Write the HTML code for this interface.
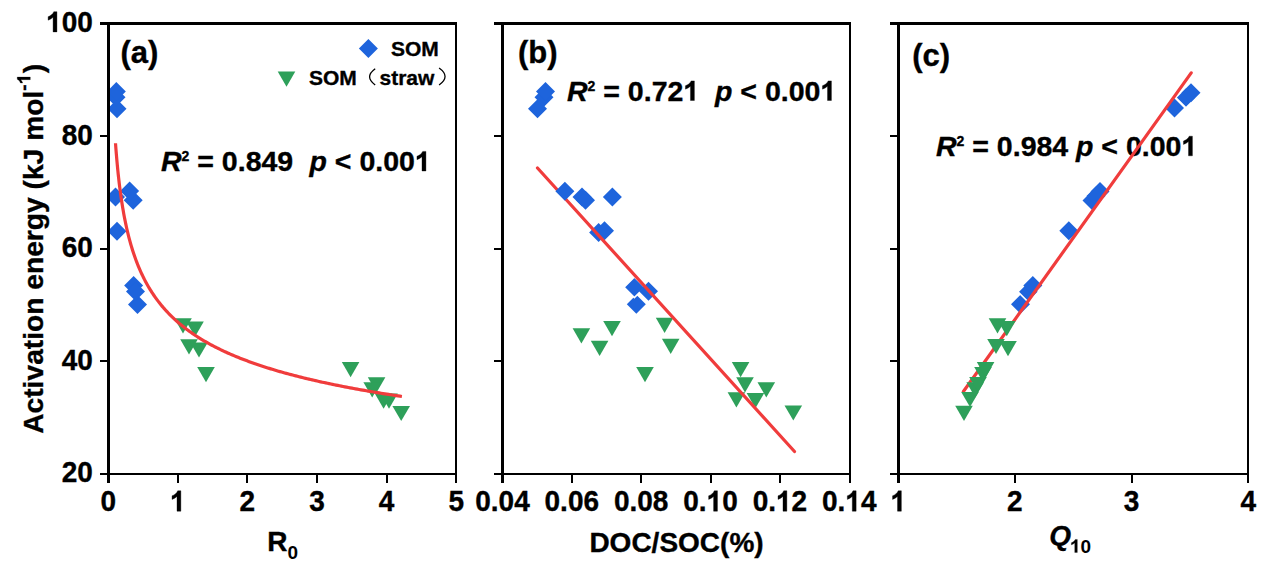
<!DOCTYPE html><html><head><meta charset="utf-8"><style>html,body{margin:0;padding:0;background:#fff}svg{display:block}text{font-family:"Liberation Sans",sans-serif;font-weight:bold;fill:#000;stroke:#000;stroke-width:0.35px} tspan.one{stroke:none;fill:transparent}</style></head><body><svg width="1269" height="569" viewBox="0 0 1269 569">
<rect width="1269" height="569" fill="#fff"/>
<defs><clipPath id="ca"><rect x="109" y="24" width="346" height="449"/></clipPath><clipPath id="cb"><rect x="503" y="24" width="345" height="449"/></clipPath><clipPath id="cc"><rect x="899" y="24" width="348" height="449"/></clipPath><path id="g1r" d="M696 0H515V1237L197 1010V1180L530 1409H696Z"/><path id="g1" stroke="#000" stroke-width="25" d="M793 0H512V1021C409 928 289 860 150 816V1061C223 1084 303 1127 388 1191C473 1254 531 1327 563 1409H793Z"/></defs>
<text x="161" y="171" font-size="28.5"><tspan font-style="italic">R</tspan><tspan font-size="14" dy="-10">2</tspan><tspan dy="10"> = 0.849</tspan></text>
<text x="309.5" y="171" font-size="28.5"><tspan font-style="italic">p</tspan> &lt; 0.00<tspan class="one" fill="transparent">1</tspan></text>
<use href="#g1" transform="translate(414.88 171.00) scale(0.01392 -0.01392)"/>
<text x="567" y="100.5" font-size="28.5"><tspan font-style="italic">R</tspan><tspan font-size="14" dy="-10">2</tspan><tspan dy="10"> = 0.72<tspan class="one" fill="transparent">1</tspan></tspan></text>
<use href="#g1" transform="translate(683.34 100.50) scale(0.01392 -0.01392)"/>
<text x="715" y="100.5" font-size="28.5"><tspan font-style="italic">p</tspan> &lt; 0.00<tspan class="one" fill="transparent">1</tspan></text>
<use href="#g1" transform="translate(820.38 100.50) scale(0.01392 -0.01392)"/>
<text x="936" y="155.8" font-size="28.5"><tspan font-style="italic">R</tspan><tspan font-size="14" dy="-10">2</tspan><tspan dy="10"> = 0.984</tspan></text>
<text x="1076" y="155.8" font-size="28.5"><tspan font-style="italic">p</tspan> &lt; 0.00<tspan class="one" fill="transparent">1</tspan></text>
<use href="#g1" transform="translate(1181.38 155.80) scale(0.01392 -0.01392)"/>
<g clip-path="url(#ca)">
<path d="M137.5 295.0L147.0 304.5L137.5 314.0L128.0 304.5Z" fill="#1e64dc"/>
<path d="M133.6 276.1L143.1 285.6L133.6 295.1L124.1 285.6Z" fill="#1e64dc"/>
<path d="M135.5 282.0L145.0 291.5L135.5 301.0L126.0 291.5Z" fill="#1e64dc"/>
<path d="M117.0 221.8L126.5 231.3L117.0 240.8L107.5 231.3Z" fill="#1e64dc"/>
<path d="M115.5 187.4L125.0 196.9L115.5 206.4L106.0 196.9Z" fill="#1e64dc"/>
<path d="M133.2 190.8L142.7 200.3L133.2 209.8L123.7 200.3Z" fill="#1e64dc"/>
<path d="M129.6 181.5L139.1 191.0L129.6 200.5L120.1 191.0Z" fill="#1e64dc"/>
<path d="M117.0 99.3L126.5 108.8L117.0 118.3L107.5 108.8Z" fill="#1e64dc"/>
<path d="M116.0 87.8L125.5 97.3L116.0 106.8L106.5 97.3Z" fill="#1e64dc"/>
<path d="M116.3 82.1L125.8 91.6L116.3 101.1L106.8 91.6Z" fill="#1e64dc"/>
<path d="M197.2 367.0L214.8 367.0L206.0 382.2Z" fill="#2ea05a"/>
<path d="M180.2 339.2L197.8 339.2L189.0 354.4Z" fill="#2ea05a"/>
<path d="M190.2 342.4L207.8 342.4L199.0 357.6Z" fill="#2ea05a"/>
<path d="M174.2 318.3L191.8 318.3L183.0 333.5Z" fill="#2ea05a"/>
<path d="M186.2 321.5L203.8 321.5L195.0 336.7Z" fill="#2ea05a"/>
<path d="M341.8 362.0L359.4 362.0L350.6 377.2Z" fill="#2ea05a"/>
<path d="M367.8 377.3L385.4 377.3L376.6 392.5Z" fill="#2ea05a"/>
<path d="M363.4 382.2L381.0 382.2L372.2 397.4Z" fill="#2ea05a"/>
<path d="M374.8 393.6L392.4 393.6L383.6 408.8Z" fill="#2ea05a"/>
<path d="M380.2 393.6L397.8 393.6L389.0 408.8Z" fill="#2ea05a"/>
<path d="M392.4 405.9L410.0 405.9L401.2 421.1Z" fill="#2ea05a"/>
<path d="M115.51 143.25 L115.55 143.87 L115.64 145.12 L115.77 146.79 L115.92 148.79 L116.10 151.06 L116.30 153.54 L116.52 156.20 L116.76 159.00 L117.02 161.91 L117.29 164.91 L117.59 167.97 L117.90 171.08 L118.22 174.23 L118.57 177.38 L118.92 180.55 L119.29 183.70 L119.68 186.85 L120.08 189.97 L120.49 193.06 L120.92 196.13 L121.36 199.15 L121.81 202.14 L122.27 205.09 L122.75 207.99 L123.24 210.85 L123.74 213.66 L124.25 216.42 L124.78 219.14 L125.31 221.80 L125.86 224.42 L126.42 226.99 L126.98 229.52 L127.56 231.99 L128.15 234.42 L128.75 236.81 L129.36 239.15 L129.98 241.44 L130.62 243.70 L131.26 245.90 L131.91 248.07 L132.57 250.20 L133.24 252.29 L133.92 254.33 L134.61 256.34 L135.31 258.32 L136.02 260.25 L136.74 262.15 L137.46 264.02 L138.20 265.85 L138.94 267.65 L139.70 269.42 L140.46 271.16 L141.23 272.86 L142.02 274.54 L142.81 276.18 L143.60 277.80 L144.41 279.39 L145.23 280.96 L146.05 282.50 L146.88 284.01 L147.72 285.50 L148.57 286.96 L149.43 288.40 L150.30 289.82 L151.17 291.21 L152.05 292.58 L152.94 293.93 L153.84 295.26 L154.75 296.57 L155.66 297.86 L156.58 299.13 L157.51 300.39 L158.45 301.62 L159.39 302.83 L160.35 304.03 L161.31 305.21 L162.27 306.37 L163.25 307.52 L164.23 308.65 L165.22 309.76 L166.22 310.86 L167.23 311.94 L168.24 313.01 L169.26 314.07 L170.29 315.11 L171.32 316.14 L172.36 317.15 L173.41 318.15 L174.47 319.14 L175.53 320.11 L176.60 321.07 L177.68 322.02 L178.77 322.96 L179.86 323.89 L180.96 324.80 L182.06 325.70 L183.18 326.60 L184.29 327.48 L185.42 328.35 L186.55 329.21 L187.69 330.06 L188.84 330.90 L190.00 331.73 L191.16 332.56 L192.32 333.37 L193.50 334.17 L194.68 334.97 L195.86 335.75 L197.06 336.53 L198.26 337.30 L199.47 338.05 L200.68 338.81 L201.90 339.55 L203.13 340.28 L204.36 341.01 L205.60 341.73 L206.84 342.44 L208.10 343.15 L209.35 343.85 L210.62 344.54 L211.89 345.22 L213.17 345.90 L214.45 346.57 L215.74 347.23 L217.04 347.89 L218.34 348.54 L219.65 349.18 L220.97 349.82 L222.29 350.45 L223.61 351.08 L224.95 351.70 L226.29 352.31 L227.63 352.92 L228.99 353.52 L230.34 354.12 L231.71 354.71 L233.08 355.29 L234.45 355.87 L235.84 356.45 L237.22 357.02 L238.62 357.58 L240.02 358.14 L241.42 358.70 L242.84 359.25 L244.25 359.79 L245.68 360.33 L247.11 360.87 L248.54 361.40 L249.98 361.93 L251.43 362.45 L252.88 362.97 L254.34 363.48 L255.81 363.99 L257.28 364.50 L258.75 365.00 L260.23 365.49 L261.72 365.99 L263.21 366.47 L264.71 366.96 L266.22 367.44 L267.73 367.92 L269.24 368.39 L270.76 368.86 L272.29 369.33 L273.82 369.79 L275.36 370.25 L276.90 370.70 L278.45 371.16 L280.01 371.60 L281.57 372.05 L283.13 372.49 L284.70 372.93 L286.28 373.36 L287.86 373.80 L289.45 374.23 L291.04 374.65 L292.64 375.07 L294.24 375.49 L295.85 375.91 L297.47 376.32 L299.09 376.73 L300.71 377.14 L302.35 377.54 L303.98 377.95 L305.62 378.35 L307.27 378.74 L308.92 379.14 L310.58 379.53 L312.24 379.91 L313.91 380.30 L315.58 380.68 L317.26 381.06 L318.95 381.44 L320.64 381.82 L322.33 382.19 L324.03 382.56 L325.73 382.93 L327.44 383.29 L329.16 383.65 L330.88 384.01 L332.61 384.37 L334.34 384.73 L336.07 385.08 L337.81 385.43 L339.56 385.78 L341.31 386.13 L343.07 386.47 L344.83 386.82 L346.60 387.16 L348.37 387.49 L350.14 387.83 L351.93 388.16 L353.71 388.50 L355.50 388.83 L357.30 389.15 L359.10 389.48 L360.91 389.80 L362.72 390.13 L364.54 390.45 L366.36 390.76 L368.19 391.08 L370.02 391.40 L371.86 391.71 L373.70 392.02 L375.54 392.33 L377.40 392.63 L379.25 392.94 L381.11 393.24 L382.98 393.55 L384.85 393.85 L386.73 394.14 L388.61 394.44 L390.49 394.74 L392.39 395.03 L394.28 395.32 L396.18 395.61 L398.09 395.90 L400.00 396.19 L401.91 396.47" fill="none" stroke="#f03c3c" stroke-width="3.2" stroke-linejoin="round"/>
</g>
<g clip-path="url(#cb)">
<path d="M537.5 99.3L547.0 108.8L537.5 118.3L528.0 108.8Z" fill="#1e64dc"/>
<path d="M544.0 87.8L553.5 97.3L544.0 106.8L534.5 97.3Z" fill="#1e64dc"/>
<path d="M545.5 82.1L555.0 91.6L545.5 101.1L536.0 91.6Z" fill="#1e64dc"/>
<path d="M612.4 187.4L621.9 196.9L612.4 206.4L602.9 196.9Z" fill="#1e64dc"/>
<path d="M582.0 187.4L591.5 196.9L582.0 206.4L572.5 196.9Z" fill="#1e64dc"/>
<path d="M585.5 190.8L595.0 200.3L585.5 209.8L576.0 200.3Z" fill="#1e64dc"/>
<path d="M598.6 222.9L608.1 232.4L598.6 241.9L589.1 232.4Z" fill="#1e64dc"/>
<path d="M604.5 221.2L614.0 230.7L604.5 240.2L595.0 230.7Z" fill="#1e64dc"/>
<path d="M636.3 294.7L645.8 304.2L636.3 313.7L626.8 304.2Z" fill="#1e64dc"/>
<path d="M634.4 277.0L644.7 287.3L634.4 297.6L624.1 287.3Z" fill="#1e64dc" stroke="#fff" stroke-width="1.6"/>
<path d="M648.5 281.8L658.0 291.3L648.5 300.8L639.0 291.3Z" fill="#1e64dc"/>
<path d="M572.6 328.2L590.2 328.2L581.4 343.4Z" fill="#2ea05a"/>
<path d="M603.2 321.0L620.8 321.0L612.0 336.2Z" fill="#2ea05a"/>
<path d="M590.8 340.7L608.4 340.7L599.6 355.9Z" fill="#2ea05a"/>
<path d="M655.8 317.8L673.4 317.8L664.6 333.0Z" fill="#2ea05a"/>
<path d="M661.9 338.7L679.5 338.7L670.7 353.9Z" fill="#2ea05a"/>
<path d="M636.2 367.0L653.8 367.0L645.0 382.2Z" fill="#2ea05a"/>
<path d="M731.8 362.1L749.4 362.1L740.6 377.3Z" fill="#2ea05a"/>
<path d="M736.2 377.3L753.8 377.3L745.0 392.5Z" fill="#2ea05a"/>
<path d="M757.5 382.2L775.1 382.2L766.3 397.4Z" fill="#2ea05a"/>
<path d="M727.6 392.3L745.2 392.3L736.4 407.5Z" fill="#2ea05a"/>
<path d="M746.6 393.1L764.2 393.1L755.4 408.3Z" fill="#2ea05a"/>
<path d="M784.5 405.4L802.1 405.4L793.3 420.6Z" fill="#2ea05a"/>
<line x1="537.5" y1="168" x2="794.5" y2="451.5" stroke="#f03c3c" stroke-width="3.2" stroke-linecap="round"/>
<path d="M564.9 181.8L574.4 191.3L564.9 200.8L555.4 191.3Z" fill="#1e64dc"/>
</g>
<g clip-path="url(#cc)">
<path d="M1174.5 98.5L1184.0 108.0L1174.5 117.5L1165.0 108.0Z" fill="#1e64dc"/>
<path d="M1186.0 87.3L1196.3 97.6L1186.0 107.9L1175.7 97.6Z" fill="#1e64dc" stroke="#fff" stroke-width="1.6"/>
<path d="M1191.0 83.3L1200.5 92.8L1191.0 102.3L1181.5 92.8Z" fill="#1e64dc"/>
<path d="M1092.0 191.0L1101.5 200.5L1092.0 210.0L1082.5 200.5Z" fill="#1e64dc"/>
<path d="M1096.0 186.5L1105.5 196.0L1096.0 205.5L1086.5 196.0Z" fill="#1e64dc"/>
<path d="M1100.0 182.0L1109.5 191.5L1100.0 201.0L1090.5 191.5Z" fill="#1e64dc"/>
<path d="M1068.8 221.2L1078.3 230.7L1068.8 240.2L1059.3 230.7Z" fill="#1e64dc"/>
<path d="M1020.5 294.8L1030.0 304.3L1020.5 313.8L1011.0 304.3Z" fill="#1e64dc"/>
<path d="M1028.3 281.5L1038.6 291.8L1028.3 302.1L1018.0 291.8Z" fill="#1e64dc" stroke="#fff" stroke-width="1.6"/>
<path d="M1032.8 276.0L1042.3 285.5L1032.8 295.0L1023.3 285.5Z" fill="#1e64dc"/>
<line x1="963.4" y1="391.5" x2="1191.2" y2="72.9" stroke="#f03c3c" stroke-width="3.2" stroke-linecap="round"/>
<path d="M955.2 405.7L972.8 405.7L964.0 420.9Z" fill="#2ea05a"/>
<path d="M961.2 391.9L978.8 391.9L970.0 407.1Z" fill="#2ea05a"/>
<path d="M966.4 382.3L984.0 382.3L975.2 397.5Z" fill="#2ea05a"/>
<path d="M969.2 377.1L986.8 377.1L978.0 392.3Z" fill="#2ea05a"/>
<path d="M974.2 367.1L991.8 367.1L983.0 382.3Z" fill="#2ea05a"/>
<path d="M976.8 362.1L994.4 362.1L985.6 377.3Z" fill="#2ea05a"/>
<path d="M987.2 338.9L1004.8 338.9L996.0 354.1Z" fill="#2ea05a"/>
<path d="M999.2 341.1L1016.8 341.1L1008.0 356.3Z" fill="#2ea05a"/>
<path d="M988.7 318.3L1006.3 318.3L997.5 333.5Z" fill="#2ea05a"/>
<path d="M998.0 321.0L1015.6 321.0L1006.8 336.2Z" fill="#2ea05a"/>
</g>
<rect x="100.00" y="22.00" width="357.00" height="3.00" fill="#000"/>
<rect x="107.00" y="22.00" width="3.00" height="461.00" fill="#000"/>
<rect x="100.00" y="473.00" width="357.00" height="2.00" fill="#000"/>
<rect x="455.00" y="22.00" width="2.00" height="461.00" fill="#000"/>
<rect x="100.00" y="135.00" width="7.00" height="2.00" fill="#000"/>
<rect x="100.00" y="248.00" width="7.00" height="2.00" fill="#000"/>
<rect x="100.00" y="360.00" width="7.00" height="2.00" fill="#000"/>
<rect x="177.00" y="474.00" width="2.00" height="9.00" fill="#000"/>
<rect x="246.00" y="474.00" width="2.00" height="9.00" fill="#000"/>
<rect x="316.00" y="474.00" width="2.00" height="9.00" fill="#000"/>
<rect x="386.00" y="474.00" width="2.00" height="9.00" fill="#000"/>
<g transform="translate(0 511.2) scale(1 1.06) translate(0 -511.2)"><text x="108.2" y="511.2" font-size="28" text-anchor="middle">0</text></g>
<g transform="translate(0 511.2) scale(1 1.06) translate(0 -511.2)"><text x="177.8" y="511.2" font-size="28" text-anchor="middle"><tspan class="one" fill="transparent">1</tspan></text><use href="#g1" transform="translate(170.01 511.20) scale(0.01367 -0.01367)"/></g>
<g transform="translate(0 511.2) scale(1 1.06) translate(0 -511.2)"><text x="247.4" y="511.2" font-size="28" text-anchor="middle">2</text></g>
<g transform="translate(0 511.2) scale(1 1.06) translate(0 -511.2)"><text x="317.0" y="511.2" font-size="28" text-anchor="middle">3</text></g>
<g transform="translate(0 511.2) scale(1 1.06) translate(0 -511.2)"><text x="386.6" y="511.2" font-size="28" text-anchor="middle">4</text></g>
<g transform="translate(0 511.2) scale(1 1.06) translate(0 -511.2)"><text x="456.2" y="511.2" font-size="28" text-anchor="middle">5</text></g>
<g transform="translate(0 31.90) scale(1 1.05) translate(0 -31.90)"><text x="92.8" y="31.90" font-size="28" text-anchor="end"><tspan class="one" fill="transparent">1</tspan>00</text><use href="#g1" transform="translate(46.09 31.90) scale(0.01367 -0.01367)"/></g>
<g transform="translate(0 144.53) scale(1 1.05) translate(0 -144.53)"><text x="92.8" y="144.53" font-size="28" text-anchor="end">80</text></g>
<g transform="translate(0 257.15) scale(1 1.05) translate(0 -257.15)"><text x="92.8" y="257.15" font-size="28" text-anchor="end">60</text></g>
<g transform="translate(0 369.77) scale(1 1.05) translate(0 -369.77)"><text x="92.8" y="369.77" font-size="28" text-anchor="end">40</text></g>
<g transform="translate(0 482.40) scale(1 1.05) translate(0 -482.40)"><text x="92.8" y="482.40" font-size="28" text-anchor="end">20</text></g>
<rect x="494.00" y="22.00" width="357.00" height="3.00" fill="#000"/>
<rect x="501.00" y="22.00" width="3.00" height="461.00" fill="#000"/>
<rect x="494.00" y="473.00" width="357.00" height="2.00" fill="#000"/>
<rect x="849.00" y="22.00" width="2.00" height="461.00" fill="#000"/>
<rect x="494.00" y="135.00" width="7.00" height="2.00" fill="#000"/>
<rect x="494.00" y="248.00" width="7.00" height="2.00" fill="#000"/>
<rect x="494.00" y="360.00" width="7.00" height="2.00" fill="#000"/>
<rect x="571.00" y="474.00" width="2.00" height="9.00" fill="#000"/>
<rect x="640.00" y="474.00" width="2.00" height="9.00" fill="#000"/>
<rect x="710.00" y="474.00" width="2.00" height="9.00" fill="#000"/>
<rect x="779.00" y="474.00" width="2.00" height="9.00" fill="#000"/>
<g transform="translate(0 511.2) scale(1 1.06) translate(0 -511.2)"><text x="502.5" y="511.2" font-size="28" text-anchor="middle">0.04</text></g>
<g transform="translate(0 511.2) scale(1 1.06) translate(0 -511.2)"><text x="571.8" y="511.2" font-size="28" text-anchor="middle">0.06</text></g>
<g transform="translate(0 511.2) scale(1 1.06) translate(0 -511.2)"><text x="641.2" y="511.2" font-size="28" text-anchor="middle">0.08</text></g>
<g transform="translate(0 511.2) scale(1 1.06) translate(0 -511.2)"><text x="710.5" y="511.2" font-size="28" text-anchor="middle">0.<tspan class="one" fill="transparent">1</tspan>0</text><use href="#g1" transform="translate(706.60 511.20) scale(0.01367 -0.01367)"/></g>
<g transform="translate(0 511.2) scale(1 1.06) translate(0 -511.2)"><text x="779.9" y="511.2" font-size="28" text-anchor="middle">0.<tspan class="one" fill="transparent">1</tspan>2</text><use href="#g1" transform="translate(776.00 511.20) scale(0.01367 -0.01367)"/></g>
<g transform="translate(0 511.2) scale(1 1.06) translate(0 -511.2)"><text x="849.2" y="511.2" font-size="28" text-anchor="middle">0.<tspan class="one" fill="transparent">1</tspan>4</text><use href="#g1" transform="translate(845.30 511.20) scale(0.01367 -0.01367)"/></g>
<rect x="890.00" y="22.00" width="359.00" height="3.00" fill="#000"/>
<rect x="897.00" y="22.00" width="3.00" height="461.00" fill="#000"/>
<rect x="890.00" y="473.00" width="359.00" height="2.00" fill="#000"/>
<rect x="1247.00" y="22.00" width="2.00" height="461.00" fill="#000"/>
<rect x="890.00" y="135.00" width="7.00" height="2.00" fill="#000"/>
<rect x="890.00" y="248.00" width="7.00" height="2.00" fill="#000"/>
<rect x="890.00" y="360.00" width="7.00" height="2.00" fill="#000"/>
<rect x="1014.00" y="474.00" width="2.00" height="9.00" fill="#000"/>
<rect x="1131.00" y="474.00" width="2.00" height="9.00" fill="#000"/>
<g transform="translate(0 511.2) scale(1 1.06) translate(0 -511.2)"><text x="898.3" y="511.2" font-size="28" text-anchor="middle"><tspan class="one" fill="transparent">1</tspan></text><use href="#g1" transform="translate(890.51 511.20) scale(0.01367 -0.01367)"/></g>
<g transform="translate(0 511.2) scale(1 1.06) translate(0 -511.2)"><text x="1014.9" y="511.2" font-size="28" text-anchor="middle">2</text></g>
<g transform="translate(0 511.2) scale(1 1.06) translate(0 -511.2)"><text x="1131.6" y="511.2" font-size="28" text-anchor="middle">3</text></g>
<g transform="translate(0 511.2) scale(1 1.06) translate(0 -511.2)"><text x="1248.2" y="511.2" font-size="28" text-anchor="middle">4</text></g>
<text x="120.5" y="62.5" font-size="31" text-anchor="start" >(a)</text>
<text x="518.0" y="63.3" font-size="31" text-anchor="start" >(b)</text>
<text x="912.3" y="65.6" font-size="31" text-anchor="start" >(c)</text>
<path d="M368.4 38.9L377.9 48.4L368.4 57.9L358.9 48.4Z" fill="#1e64dc"/>
<text x="391.0" y="56.2" font-size="21" text-anchor="start" >SOM</text>
<path d="M277.7 71.6L295.3 71.6L286.5 86.8Z" fill="#2ea05a"/>
<text x="309.0" y="84.6" font-size="21" text-anchor="start" >SOM</text>
<text x="379.5" y="84.6" font-size="21" text-anchor="start" >straw</text>
<path d="M375.2 68.7Q364 76.8 375.2 85M439.1 68Q451 76.5 439.1 85" fill="none" stroke="#000" stroke-width="1.3"/>
<g transform="translate(42.8,433.8) rotate(-90)"><text x="0" y="0" font-size="28.2">Activation energy (kJ mol<tspan font-size="19" dy="-12.5">-<tspan class="one" fill="transparent">1</tspan></tspan><tspan dy="12.5" dx="0.5">)</tspan></text><use href="#g1" transform="translate(349.38 -12.50) scale(0.00928 -0.00928)"/></g>
<text x="267.3" y="551" font-size="28">R<tspan font-size="19" dy="7.5" style="stroke:none">0</tspan></text>
<text x="676.5" y="552.0" font-size="28" text-anchor="middle" >DOC/SOC(%)</text>
<text x="1049.3" y="545" font-size="28"><tspan font-style="italic">Q</tspan><tspan font-size="19" dy="7.5" dx="-1.1" style="stroke:none"><tspan class="one" fill="transparent">1</tspan>0</tspan></text>
<use href="#g1" transform="translate(1069.98 552.50) scale(0.00928 -0.00928)"/>
</svg></body></html>
